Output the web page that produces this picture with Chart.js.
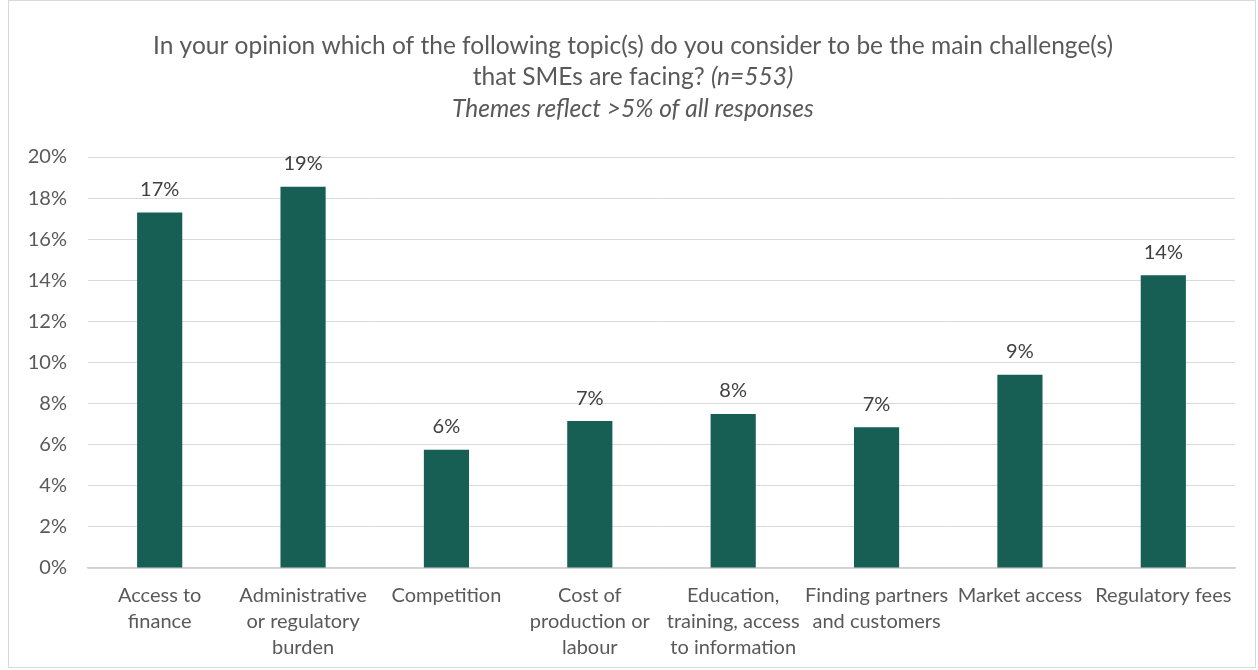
<!DOCTYPE html>
<html>
<head>
<meta charset="utf-8">
<script src="https://cdn.jsdelivr.net/npm/chart.js@4.4.1/dist/chart.umd.min.js"></script>
<style>
  html, body { margin: 0; padding: 0; background: #fff; }
  #wrap {
    position: absolute; left: 8px; top: 0px;
    width: 1246px; height: 666px;
    border: 1px solid #d9d9d9;
  }
</style>
</head>
<body>
<div id="wrap"><canvas id="sme"></canvas></div>
<script>
const topics = [
    ['Access to', 'finance'],
    ['Administrative', 'or regulatory', 'burden'],
    ['Competition'],
    ['Cost of', 'production or', 'labour'],
    ['Education,', 'training, access', 'to information'],
    ['Finding partners', 'and customers'],
    ['Market access'],
    ['Regulatory fees']
];
const shares = [17.3, 18.55, 5.75, 7.15, 7.5, 6.85, 9.4, 14.25];
const yTicks = [0, 2, 4, 6, 8, 10, 12, 14, 16, 18, 20];

const FONT = 'Lato, "Open Sans", sans-serif';
const GREY = '#595959';

// heading: three centred lines, the second one partly italic
const heading = {
    id: 'heading',
    afterDraw(chart) {
        const ctx = chart.ctx;
        const cx = chart.width / 2 + 1;
        const f = '24.5px ' + FONT;
        const fi = 'italic 24.5px ' + FONT;
        ctx.save();
        ctx.fillStyle = GREY;
        ctx.textBaseline = 'middle';
        ctx.textAlign = 'center';
        ctx.font = f;
        ctx.fillText('In your opinion which of the following topic(s) do you consider to be the main challenge(s)', cx, 45);

        const a = 'that SMEs are facing? ';
        const b = '(n=553)';
        ctx.font = f;
        const wa = ctx.measureText(a).width;
        ctx.font = fi;
        const wb = ctx.measureText(b).width;
        const x0 = cx - (wa + wb) / 2;
        ctx.textAlign = 'left';
        ctx.font = f;
        ctx.fillText(a, x0, 76);
        ctx.font = fi;
        ctx.fillText(b, x0 + wa, 76);

        ctx.textAlign = 'center';
        ctx.fillText('Themes reflect >5% of all responses', cx, 108);
        ctx.restore();
    }
};

// rounded percentage above each bar
const barLabels = {
    id: 'barLabels',
    afterDatasetsDraw(chart) {
        const ctx = chart.ctx;
        const meta = chart.getDatasetMeta(0);
        ctx.save();
        ctx.fillStyle = '#404040';
        ctx.font = '20px ' + FONT;
        ctx.textAlign = 'center';
        ctx.textBaseline = 'bottom';
        meta.data.forEach((bar, i) => {
            ctx.fillText(Math.round(shares[i]) + '%', bar.x, bar.y - 13);
        });
        ctx.restore();
    }
};

new Chart(document.getElementById('sme'), {
    type: 'bar',
    data: {
        labels: topics,
        datasets: [{
            data: shares,
            backgroundColor: '#175e54',
            categoryPercentage: 1,
            barPercentage: 0.315
        }]
    },
    options: {
        responsive: true,
        maintainAspectRatio: false,
        animation: false,
        layout: { padding: { top: 156, right: 20, left: 0, bottom: 0 } },
        plugins: {
            legend: { display: false },
            tooltip: { enabled: false }
        },
        scales: {
            x: {
                grid: { display: false, drawTicks: false },
                border: { color: '#d0d0d0', width: 1.5 },
                ticks: {
                    color: GREY,
                    font: { family: FONT, size: 20, lineHeight: '26px' },
                    padding: 15,
                    maxRotation: 0,
                    autoSkip: false
                },
                afterFit(scale) { scale.height = 99; }
            },
            y: {
                min: 0,
                max: 20,
                afterBuildTicks(scale) { scale.ticks = yTicks.map(v => ({ value: v })); },
                grid: { color: '#d9d9d9', drawTicks: false },
                border: { display: false },
                ticks: {
                    color: GREY,
                    font: { family: FONT, size: 20 },
                    padding: 21,
                    callback: v => v + '%'
                },
                afterFit(scale) { scale.width = 79; }
            }
        }
    },
    plugins: [heading, barLabels]
});
</script>
</body>
</html>
